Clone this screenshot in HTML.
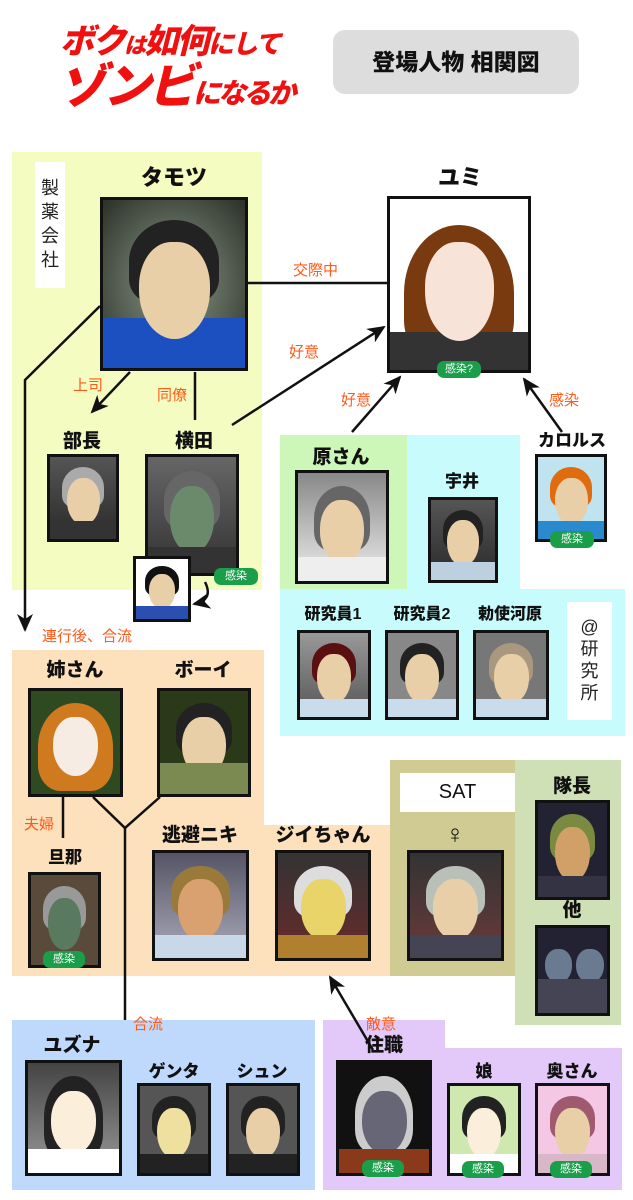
<!DOCTYPE html>
<html><head><meta charset="utf-8"><style>
*{margin:0;padding:0;box-sizing:border-box}
body{width:633px;height:1200px;background:#fff;position:relative;overflow:hidden;font-family:"Liberation Sans","Noto Sans CJK JP",sans-serif}
div{position:absolute}
.n{font-weight:900;font-size:19px;color:#111;text-align:center;width:120px;margin-left:-60px;line-height:22px}
.l{color:#ff5a1a;font-size:15px;line-height:16px}
.p{border:3px solid #111;overflow:hidden;background:linear-gradient(#555,#2a2a2a)}
.p .h{left:18%;top:12%;width:64%;height:50%;border-radius:50% 50% 30% 30%;background:#222}
.p .f{left:25%;top:25%;width:50%;height:58%;border-radius:45% 45% 50% 50%;background:#e9cfa8}
.p .b{left:0;bottom:0;width:100%;height:22%;background:#7d8aa0}
.bd{background:#1a9e4a;color:#fff;font-size:11px;border-radius:7px;text-align:center;line-height:17px;height:17px}
svg{position:absolute;left:0;top:0}
</style></head><body>
<div style="left:12px;top:152px;width:250px;height:438px;background:#f4fcc2"></div>
<div style="left:280px;top:435px;width:127px;height:159px;background:#cdf7b8"></div>
<div style="left:407px;top:435px;width:113px;height:159px;background:#c8fcfc"></div>
<div style="left:280px;top:589px;width:345px;height:147px;background:#c8fcfc"></div>
<div style="left:12px;top:650px;width:252px;height:326px;background:#fde0bc"></div>
<div style="left:262px;top:825px;width:130px;height:151px;background:#fde0bc"></div>
<div style="left:515px;top:760px;width:106px;height:265px;background:#cfe0b6"></div>
<div style="left:390px;top:760px;width:125px;height:216px;background:#cfcb93"></div>
<div style="left:12px;top:1020px;width:303px;height:170px;background:#bed9fb"></div>
<div style="left:323px;top:1020px;width:122px;height:170px;background:#e3c9f9"></div>
<div style="left:445px;top:1048px;width:177px;height:142px;background:#e3c9f9"></div>

<div style="left:60px;top:22px;color:#f01010;font-weight:900;font-size:34px;line-height:40px;font-style:italic;letter-spacing:-2px">ボク<span style="font-size:22px">は</span>如何<span style="font-size:26px">にして</span></div>
<div style="left:58px;top:62px;color:#f01010;font-weight:900;font-size:48px;line-height:52px;font-style:italic;letter-spacing:-3px">ゾンビ<span style="font-size:28px">になるか</span></div>
<div style="left:333px;top:30px;width:246px;height:64px;background:#ddd;border-radius:12px;font-weight:900;font-size:23px;text-align:center;line-height:64px;color:#111">登場人物&nbsp;相関図</div>

<div style="left:35px;top:162px;width:30px;height:126px;background:#fff;font-size:18px;line-height:24px;text-align:center;padding-top:14px;color:#222">製<br>薬<br>会<br>社</div>
<div style="left:567px;top:602px;width:45px;height:118px;background:#fff;font-size:18px;line-height:22px;text-align:center;padding-top:14px;color:#222">@<br>研<br>究<br>所</div>
<div style="left:400px;top:773px;width:115px;height:39px;background:#fff;font-size:20px;text-align:center;line-height:39px;color:#111">SAT</div>

<svg width="633" height="1200">
<defs><marker id="b" markerWidth="18" markerHeight="16" refX="16" refY="8" orient="auto" markerUnits="userSpaceOnUse"><path d="M0,0 L18,8 L0,16 L5,8 Z" fill="#111"/></marker></defs>
<g stroke="#111" stroke-width="2.5" fill="none">
<line x1="247" y1="283" x2="388" y2="283"/>
<line x1="130" y1="372" x2="92" y2="412" marker-end="url(#b)"/>
<line x1="195" y1="372" x2="195" y2="420"/>
<line x1="232" y1="425" x2="384" y2="327" marker-end="url(#b)"/>
<line x1="352" y1="432" x2="400" y2="377" marker-end="url(#b)"/>
<line x1="562" y1="432" x2="524" y2="379" marker-end="url(#b)"/>
<polyline points="100,306 25,380 25,630" marker-end="url(#b)"/>
<path d="M205,582 Q214,600 194,604" marker-end="url(#b)"/>
<line x1="63" y1="797" x2="63" y2="838"/>
<polyline points="93,797 125,828 160,797"/>
<line x1="125" y1="828" x2="125" y2="1020"/>
<line x1="373" y1="1050" x2="330" y2="977" marker-end="url(#b)"/>
</g></svg>

<div class="l" style="left:293px;top:263px">交際中</div>
<div class="l" style="left:289px;top:345px">好意</div>
<div class="l" style="left:341px;top:393px">好意</div>
<div class="l" style="left:549px;top:393px">感染</div>
<div class="l" style="left:73px;top:378px">上司</div>
<div class="l" style="left:157px;top:388px">同僚</div>
<div class="l" style="left:42px;top:629px">連行後、合流</div>
<div class="l" style="left:24px;top:817px">夫婦</div>
<div class="l" style="left:133px;top:1017px">合流</div>
<div class="l" style="left:366px;top:1017px">敵意</div>

<div class="n" style="left:174px;top:167px;font-size:22px">タモツ</div>
<div class="n" style="left:460px;top:167px;font-size:22px">ユミ</div>
<div class="n" style="left:82px;top:431px">部長</div>
<div class="n" style="left:194px;top:431px">横田</div>
<div class="n" style="left:341px;top:447px">原さん</div>
<div class="n" style="left:462px;top:471px;font-size:17px">宇井</div>
<div class="n" style="left:572px;top:430px;font-size:17px">カロルス</div>
<div class="n" style="left:333px;top:604px;font-size:16px">研究員1</div>
<div class="n" style="left:422px;top:604px;font-size:16px">研究員2</div>
<div class="n" style="left:510px;top:604px;font-size:16px">勅使河原</div>
<div class="n" style="left:75px;top:660px">姉さん</div>
<div class="n" style="left:203px;top:660px">ボーイ</div>
<div class="n" style="left:65px;top:847px;font-size:17px">旦那</div>
<div class="n" style="left:200px;top:825px">逃避ニキ</div>
<div class="n" style="left:323px;top:825px">ジイちゃん</div>
<div class="n" style="left:455px;top:820px;font-size:26px;line-height:28px">♀</div>
<div class="n" style="left:572px;top:776px">隊長</div>
<div class="n" style="left:572px;top:900px">他</div>
<div class="n" style="left:72px;top:1035px">ユズナ</div>
<div class="n" style="left:174px;top:1061px;font-size:17px">ゲンタ</div>
<div class="n" style="left:262px;top:1061px;font-size:17px">シュン</div>
<div class="n" style="left:384px;top:1035px">住職</div>
<div class="n" style="left:484px;top:1061px;font-size:17px">娘</div>
<div class="n" style="left:572px;top:1061px;font-size:17px">奥さん</div>

<div class="p" style="left:100px;top:197px;width:148px;height:174px;background:radial-gradient(#8a9a88,#2c3028)"><div class="b" style="height:30%;background:#1c4fc0"></div><div class="h"></div><div class="f"></div></div>
<div class="p" style="left:387px;top:196px;width:144px;height:177px;background:#fff"><div class="h" style="background:#7a3a10;height:80%;top:15%;left:10%;width:80%"></div><div class="b" style="background:#333"></div><div class="f" style="background:#f7e3d8"></div></div>
<div class="bd" style="left:437px;top:361px;width:44px">感染?</div>
<div class="p" style="left:47px;top:454px;width:72px;height:88px"><div class="h" style="background:#aaa"></div><div class="f"></div><div class="b" style="background:#333"></div></div>
<div class="p" style="left:145px;top:454px;width:94px;height:122px;background:linear-gradient(#666,#333)"><div class="h" style="background:#666"></div><div class="f" style="background:#6b8a6c"></div><div class="b" style="background:#333"></div></div>
<div class="bd" style="left:214px;top:568px;width:44px">感染</div>
<div class="p" style="left:133px;top:556px;width:58px;height:66px;background:#fff"><div class="h" style="background:#111"></div><div class="f"></div><div class="b" style="background:#2a4fb0"></div></div>
<div class="p" style="left:295px;top:470px;width:94px;height:114px;background:linear-gradient(#888,#eee)"><div class="h" style="background:#666;height:60%"></div><div class="f"></div><div class="b" style="background:#eee"></div></div>
<div class="p" style="left:428px;top:497px;width:70px;height:86px"><div class="h"></div><div class="f"></div><div class="b" style="background:#bcd0e0"></div></div>
<div class="p" style="left:535px;top:454px;width:72px;height:88px;background:#bfe4f0"><div class="h" style="background:#e06c10"></div><div class="f"></div><div class="b" style="background:#2a8ad0"></div></div>
<div class="bd" style="left:550px;top:531px;width:44px">感染</div>
<div class="p" style="left:297px;top:630px;width:74px;height:90px;background:linear-gradient(#999,#555)"><div class="h" style="background:#5a1010"></div><div class="f"></div><div class="b" style="background:#c8dcec"></div></div>
<div class="p" style="left:385px;top:630px;width:74px;height:90px;background:#888"><div class="h"></div><div class="f"></div><div class="b" style="background:#c8dcec"></div></div>
<div class="p" style="left:473px;top:630px;width:76px;height:90px;background:#777"><div class="h" style="background:#a89880"></div><div class="f"></div><div class="b" style="background:#c8dcec"></div></div>
<div class="p" style="left:28px;top:688px;width:95px;height:109px;background:#2f4a20"><div class="h" style="background:#d07a20;height:85%;left:8%;width:84%"></div><div class="f" style="background:#f7ece4"></div></div>
<div class="p" style="left:157px;top:688px;width:94px;height:109px;background:#2a3a18"><div class="h"></div><div class="f"></div><div class="b" style="background:#7a8a50;height:30%"></div></div>
<div class="p" style="left:28px;top:872px;width:73px;height:96px;background:#5a4a3a"><div class="h" style="background:#999"></div><div class="f" style="background:#5a7a60"></div></div>
<div class="bd" style="left:43px;top:951px;width:42px">感染</div>
<div class="p" style="left:152px;top:850px;width:97px;height:111px;background:linear-gradient(#556,#aab)"><div class="h" style="background:#9a7a3a"></div><div class="f" style="background:#d9a070"></div><div class="b" style="background:#c8d8e8"></div></div>
<div class="p" style="left:275px;top:850px;width:96px;height:111px;background:linear-gradient(#333,#6a2a2a)"><div class="h" style="background:#ddd"></div><div class="f" style="background:#e8d468"></div><div class="b" style="background:#b08030"></div></div>
<div class="p" style="left:407px;top:850px;width:97px;height:111px;background:linear-gradient(#333,#6a3a3a)"><div class="h" style="background:#b8c0b8"></div><div class="f"></div><div class="b" style="background:#445"></div></div>
<div class="p" style="left:535px;top:800px;width:75px;height:100px;background:#223"><div class="h" style="background:#7a8a40"></div><div class="f" style="background:#d0a068"></div><div class="b" style="background:#334"></div></div>
<div class="p" style="left:535px;top:925px;width:75px;height:91px;background:#223"><div class="f" style="background:#6a7a90;left:10%;width:40%;height:40%"></div><div class="f" style="background:#6a7a90;left:55%;width:40%;height:40%"></div><div class="b" style="background:#445;height:40%"></div></div>
<div class="p" style="left:25px;top:1060px;width:97px;height:116px;background:linear-gradient(#444,#999)"><div class="h" style="height:75%"></div><div class="f" style="background:#fbefdc"></div><div class="b" style="background:#fff"></div></div>
<div class="p" style="left:137px;top:1083px;width:74px;height:93px;background:#555"><div class="h"></div><div class="f" style="background:#f0e0a0"></div><div class="b" style="background:#222"></div></div>
<div class="p" style="left:226px;top:1083px;width:74px;height:93px;background:#555"><div class="h"></div><div class="f"></div><div class="b" style="background:#222"></div></div>
<div class="p" style="left:336px;top:1060px;width:96px;height:116px;background:#111"><div class="h" style="background:#ccc;height:70%"></div><div class="f" style="background:#667"></div><div class="b" style="background:#8a3a1a"></div></div>
<div class="bd" style="left:362px;top:1160px;width:42px">感染</div>
<div class="p" style="left:447px;top:1083px;width:74px;height:93px;background:#cfe8b0"><div class="h"></div><div class="f" style="background:#fbefdc"></div><div class="b" style="background:#fff"></div></div>
<div class="bd" style="left:462px;top:1161px;width:42px">感染</div>
<div class="p" style="left:535px;top:1083px;width:75px;height:93px;background:#f4c8e4"><div class="h" style="background:#a05a70"></div><div class="f"></div><div class="b" style="background:#d8b8c8"></div></div>
<div class="bd" style="left:550px;top:1161px;width:42px">感染</div>
</body></html>
